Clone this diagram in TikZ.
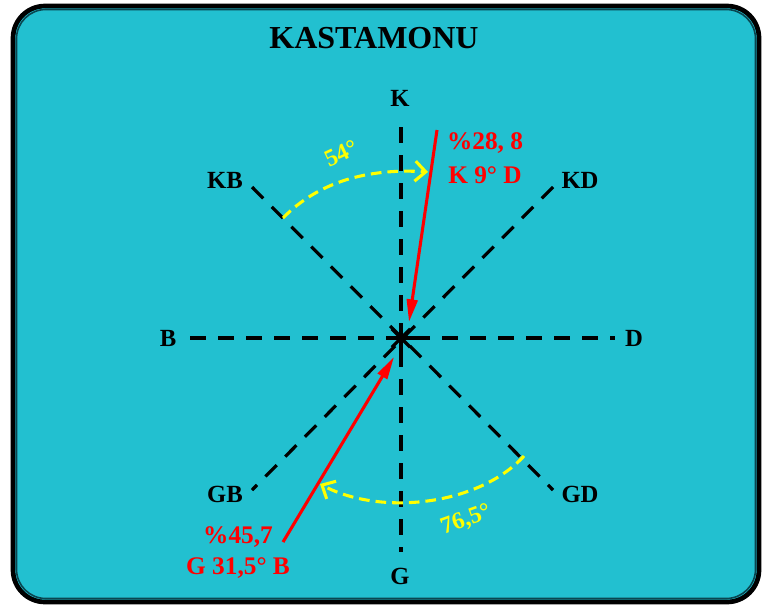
\documentclass[tikz,border=0pt]{standalone}
\usepackage{fontspec}
\setmainfont{Liberation Serif}
\usetikzlibrary{arrows.meta}
\definecolor{boxfill}{RGB}{34,192,208}
\definecolor{boxedge}{RGB}{10,70,80}
\definecolor{redline}{RGB}{255,0,0}
\definecolor{yel}{RGB}{255,255,0}
\tikzset{
  axis/.style={line width=2.4pt, dash pattern=on 12pt off 9pt, black},
  dirlabel/.style={font=\bfseries\fontsize{18.5}{20}\selectfont, text=black, inner sep=0pt},
  redlabel/.style={font=\bfseries\fontsize{19}{21}\selectfont, text=redline, inner sep=0pt, align=center},
  yellabel/.style={font=\bfseries\fontsize{18}{20}\selectfont, text=yel, inner sep=0pt},
  redarrow/.style={line width=2.3pt, redline, -{Triangle[length=17pt,width=8pt]}},
  yelarc/.style={line width=2.3pt, yel, dash pattern=on 8pt off 4.5pt, -{Straight Barb[length=8pt,width=15pt,line width=2.3pt]}},
  spoke/.style={line width=2.4pt, black}
}
\begin{document}
\begin{tikzpicture}[x=0.75pt,y=-0.75pt]
\useasboundingbox (0,0) rectangle (762,607);
% frame
\draw[line width=3.5pt, black, fill=boxfill, rounded corners=24pt] (13,6) rectangle (759,602);
\draw[line width=1.2pt, boxedge, rounded corners=22pt] (16.5,9.5) rectangle (755.5,598.5);
% title
\node[font=\bfseries\fontsize{24}{26}\selectfont, inner sep=0pt] (title) at (374,38) {KASTAMONU};
% centre
\coordinate (c) at (401,338);
% axis end points
\coordinate (kend) at (401,127);
\coordinate (gend) at (401,552);
\coordinate (bend) at (190,338);
\coordinate (dend) at (615,338);
\coordinate (kbend) at (252,187);
\coordinate (gdend) at (553,490);
\coordinate (kdend) at (553,187);
\coordinate (gbend) at (252,490);
\draw[axis] (kend) -- (gend);
\draw[axis] (bend) -- (dend);
\draw[axis] (kbend) -- (gdend);
\draw[axis] (kdend) -- (gbend);
% centre asterisk
\foreach \a in {0,45,...,315}{
  \draw[spoke] (c) -- ++(\a:13);
}
% direction labels
\node[dirlabel] (K) at (400,98) {K};
\node[dirlabel] (G) at (400,576) {G};
\node[dirlabel] (B) at (168,338) {B};
\node[dirlabel] (D) at (634,338) {D};
\node[dirlabel] (KB) at (225,180) {KB};
\node[dirlabel] (KD) at (580,180) {KD};
\node[dirlabel] (GB) at (225,494) {GB};
\node[dirlabel] (GD) at (580,494) {GD};
% red arrows
\coordinate (r1s) at (437,130);
\coordinate (r1e) at (409,322);
\coordinate (r2s) at (283,542);
\coordinate (r2e) at (394,357);
\draw[redarrow] (r1s) -- (r1e);
\draw[redarrow] (r2s) -- (r2e);
\node[redlabel] (t1a) at (485,143) {\%28, 8};
\node[redlabel] (t1b) at (485,175) {K 9° D};
\node[redlabel] (t2a) at (238,537) {\%45,7};
\node[redlabel] (t2b) at (238,568) {G 31,5° B};
% yellow arcs
\coordinate (y1s) at (283,218);
\coordinate (y1e) at (428,172);
\coordinate (y2s) at (524,456);
\coordinate (y2e) at (320,484);
\draw[yelarc] (y1s) .. controls (318,182) and (368,168) .. (y1e);
\draw[yelarc] (y2s) .. controls (478,506) and (380,516) .. (y2e);
\node[yellabel, rotate=25] (a1) at (341,153) {54°};
\node[yellabel, rotate=20] (a2) at (466,520) {76,5°};
\end{tikzpicture}
\end{document}
